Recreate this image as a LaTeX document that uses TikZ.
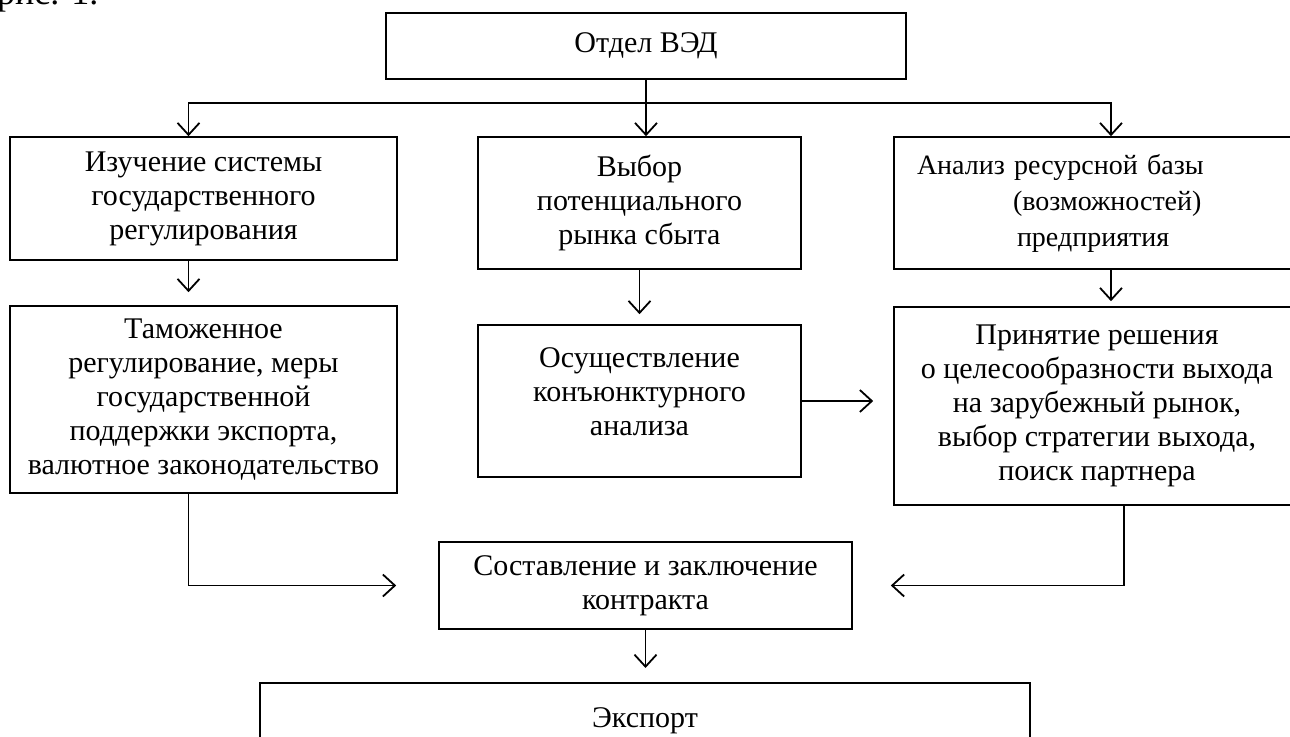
\documentclass[tikz,border=0pt]{standalone}
\usepackage{fontspec}
\setmainfont{Liberation Serif}
\usetikzlibrary{arrows.meta}

\begin{document}
\begin{tikzpicture}[x=1pt,y=-1pt]
\useasboundingbox[fill=white] (0,0) rectangle (1290,736);
\clip (0,0) rectangle (1290,736);
\tikzset{box/.style={draw=black,line width=1.6pt,inner sep=0pt,align=center,font=\fontsize{30}{34}\selectfont},arr/.style={draw=black,line width=1.6pt,-{Straight Barb[length=12pt,width=22pt,line width=1.8pt]}},wire/.style={draw=black,line width=1.6pt}}
\node[anchor=base west,inner sep=0pt,font=\fontsize{36}{40}\selectfont] (fig) at (-3,5) {рис. 1.};
\node[box,minimum width=520pt,minimum height=66pt] (ved) at (646,46) {Отдел ВЭД};
\node[box,minimum width=387pt,minimum height=123pt] (lb1) at (203.5,198.5) {Изучение системы\\государственного\\регулирования};
\node[box,minimum width=323pt,minimum height=132pt] (mb1) at (639.5,203) {Выбор\\потенциального\\рынка сбыта};
\node[box,minimum width=406pt,minimum height=132pt,align=left,text width=360pt,inner xsep=23pt,font=\fontsize{28}{36}\selectfont] (rb1) at (1097,203) {Анализ ресурсной базы\\\hspace*{96pt}(возможностей)\\\hspace*{100pt}предприятия};
\node[box,minimum width=387pt,minimum height=187pt] (lb2) at (203.5,399.5) {Таможенное\\регулирование, меры\\государственной\\поддержки экспорта,\\валютное законодательство};
\node[box,minimum width=323pt,minimum height=152pt] (mb2) at (639.5,401) {Осуществление\\конъюнктурного\\анализа\\[-16pt]};
\node[box,minimum width=406pt,minimum height=198pt] (rb2) at (1097,406) {Принятие решения\\о целесообразности выхода\\на зарубежный рынок,\\выбор стратегии выхода,\\поиск партнера};
\node[box,minimum width=413pt,minimum height=87pt] (cb) at (645.5,585.5) {Составление и заключение\\контракта};
\node[box,anchor=north,minimum width=770pt,text height=45pt,text depth=60pt] (ex) at (645,682) {Экспорт};
% branches from the department
\coordinate (split) at ([yshift=-23pt]ved.south);
\draw[wire] (ved.south) -- (split);
\draw[arr] (split) -| ([xshift=-15pt]lb1.north);
\draw[arr] (split) -- (split |- mb1.north);
\draw[arr] (split) -| ([xshift=14pt]rb1.north);
% second row
\draw[arr,shorten >=13pt] ([xshift=-15pt]lb1.south) -- ([xshift=-15pt]lb2.north);
\draw[arr,shorten >=10pt] (mb1.south) -- (mb2.north);
\draw[arr,shorten >=5pt] ([xshift=14pt]rb1.south) -- ([xshift=14pt]rb2.north);
\draw[arr,shorten >=20pt] (mb2.east) -- (mb2.east -| rb2.west);
% to the contract and export
\draw[arr,shorten >=42pt] ([xshift=-15pt]lb2.south) |- (cb.west);
\draw[arr,shorten >=38pt] ([xshift=27pt]rb2.south) |- (cb.east);
\draw[arr,shorten >=14pt] (cb.south) -- (cb.south |- ex.north);
\end{tikzpicture}
\end{document}
